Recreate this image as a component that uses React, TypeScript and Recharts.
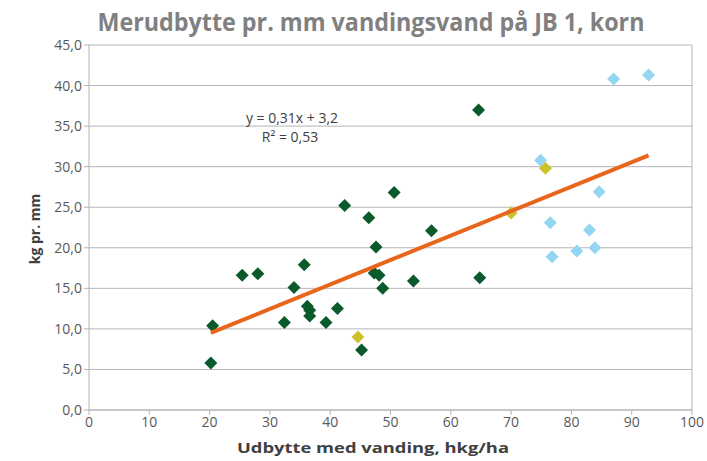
import { ScatterChart, Scatter, XAxis, YAxis, CartesianGrid, ReferenceLine } from 'recharts'

// yield with irrigation (hkg/ha) vs extra yield per mm (kg)
const darkGreen = [
  { x: 20.5, y: 10.4 }, { x: 20.2, y: 5.8 }, { x: 25.4, y: 16.6 }, { x: 28.0, y: 16.8 },
  { x: 32.4, y: 10.8 }, { x: 34.0, y: 15.1 }, { x: 35.7, y: 17.9 }, { x: 36.2, y: 12.8 },
  { x: 36.6, y: 12.3 }, { x: 36.6, y: 11.6 }, { x: 39.3, y: 10.8 }, { x: 41.2, y: 12.5 },
  { x: 42.4, y: 25.2 }, { x: 45.2, y: 7.4 }, { x: 46.4, y: 23.7 }, { x: 47.6, y: 20.1 },
  { x: 47.3, y: 16.9 }, { x: 48.1, y: 16.6 }, { x: 48.7, y: 15.0 }, { x: 50.6, y: 26.8 },
  { x: 53.8, y: 15.9 }, { x: 56.8, y: 22.1 }, { x: 64.6, y: 37.0 }, { x: 64.8, y: 16.3 },
]
const yellow = [{ x: 44.6, y: 9.0 }, { x: 70.0, y: 24.3 }, { x: 75.7, y: 29.8 }]
const lightBlue = [
  { x: 74.9, y: 30.8 }, { x: 87.0, y: 40.8 }, { x: 92.8, y: 41.3 }, { x: 84.6, y: 26.9 },
  { x: 76.5, y: 23.1 }, { x: 83.0, y: 22.2 }, { x: 76.8, y: 18.9 }, { x: 80.9, y: 19.6 },
  { x: 83.9, y: 20.0 },
]
const trend = [{ x: 20.2, y: 9.5 }, { x: 92.8, y: 31.4 }]

const xTicks = [0, 10, 20, 30, 40, 50, 60, 70, 80, 90, 100]
const yTicks = [0, 5, 10, 15, 20, 25, 30, 35, 40, 45]

const FONT = '"Open Sans", sans-serif'
const GRID = '#b5b5b5'

function Diamond({ cx, cy, fill }: any) {
  const r = 6.5
  return <polygon points={`${cx},${cy - r} ${cx + r},${cy} ${cx},${cy + r} ${cx - r},${cy}`} fill={fill} />
}

const noDot = () => <g />

export default function App() {
  return (
    <div style={{ position: 'absolute', left: 0, top: 0, width: 707, height: 461, background: '#fff', fontFamily: FONT }}>
      <ScatterChart width={707} height={461} margin={{ top: 45, right: 15, bottom: 0, left: 0 }}>
        <CartesianGrid stroke={GRID} vertical={false} />
        <XAxis
          type="number"
          dataKey="x"
          domain={[0, 100]}
          ticks={xTicks}
          height={51}
          stroke={GRID}
          tickSize={5}
          tick={{ fill: '#595959', fontSize: 14, fontFamily: FONT }}
        />
        <YAxis
          type="number"
          dataKey="y"
          domain={[0, 45]}
          ticks={yTicks}
          width={89}
          stroke={GRID}
          tickSize={5}
          tickFormatter={(v: number) => v.toFixed(1).replace('.', ',')}
          tick={{ fill: '#595959', fontSize: 14, fontFamily: FONT }}
        />
        <ReferenceLine x={100} stroke={GRID} />
        <Scatter data={lightBlue} fill="#93d6f2" shape={Diamond} isAnimationActive={false} />
        <Scatter data={darkGreen} fill="#0b5a2c" shape={Diamond} isAnimationActive={false} />
        <Scatter data={yellow} fill="#cdc22e" shape={Diamond} isAnimationActive={false} />
        <Scatter
          data={trend}
          line={{ stroke: '#e8651c', strokeWidth: 4 }}
          lineType="joint"
          shape={noDot}
          isAnimationActive={false}
        />
      </ScatterChart>
      <svg width={707} height={461} style={{ position: 'absolute', left: 0, top: 0, pointerEvents: 'none' }}>
        <text x={371} y={31} textAnchor="middle" fontSize={25} fontWeight={700} fill="#808080"
          fontFamily={FONT} textLength={547} lengthAdjust="spacingAndGlyphs">
          Merudbytte pr. mm vandingsvand på JB 1, korn
        </text>
        <text x={292} y={123} textAnchor="middle" fontSize={14} fill="#404040" fontFamily={FONT}>
          y = 0,31x + 3,2
        </text>
        <text x={290} y={142} textAnchor="middle" fontSize={14} fill="#404040" fontFamily={FONT}>
          R² = 0,53
        </text>
        <text x={373} y={453} textAnchor="middle" fontSize={14} fontWeight={700} fill="#404040"
          fontFamily={FONT} textLength={272} lengthAdjust="spacingAndGlyphs">
          Udbytte med vanding, hkg/ha
        </text>
        <text transform="translate(40 229) rotate(-90)" textAnchor="middle" fontSize={14} fontWeight={700}
          fill="#404040" fontFamily={FONT}>
          kg pr. mm
        </text>
      </svg>
    </div>
  )
}
